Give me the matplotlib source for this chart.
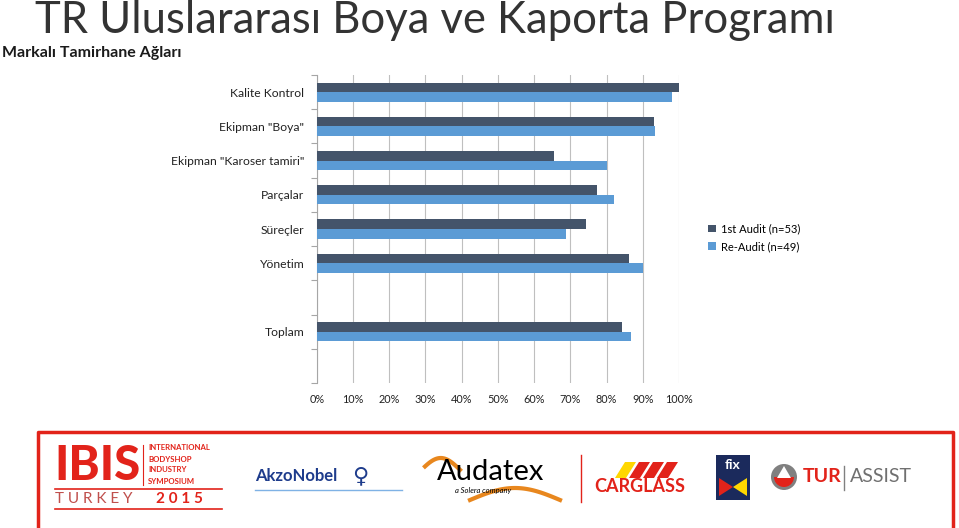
import matplotlib.pyplot as plt
import matplotlib.patches as mpatches
import numpy as np

plt.rcParams['font.family'] = ['Lato', 'DejaVu Sans']

categories = ['Kalite Kontrol', 'Ekipman "Boya"', 'Ekipman "Karoser tamiri"',
              'Parçalar', 'Süreçler', 'Yönetim', '', 'Toplam', '']
first_audit = [100, 93.1, 65.5, 77.3, 74.3, 86.3, np.nan, 84.4, np.nan]
re_audit = [98, 93.5, 80, 82, 68.7, 90, np.nan, 86.8, np.nan]
series_names = ['1st Audit (n=53)', 'Re-Audit (n=49)']
x_ticks = list(range(0, 101, 10))

dark = '#44546A'
light = '#5B9BD5'

fig = plt.figure(figsize=(9.59, 5.28), dpi=100)

fig.text(35 / 959, 1 - 33 / 528, 'TR Uluslararası Boya ve Kaporta Programı',
         fontsize=31.4, fontweight='normal', va='baseline', ha='left', color='#333333')
fig.text(2 / 959, 1 - 53 / 528, 'Markalı Tamirhane Ağları',
         fontsize=11.5, fontweight='bold', va='center', ha='left', color='#1a1a1a')

ax = fig.add_axes([316.7 / 959, 1 - 383 / 528, 362.3 / 959, 308 / 528])
y = np.arange(len(categories))
h = 0.278
ax.barh(y - h / 2, first_audit, height=h, color=dark, label=series_names[0], zorder=3)
ax.barh(y + h / 2, re_audit, height=h, color=light, label=series_names[1], zorder=3)

ax.set_xlim(0, 100)
ax.set_ylim(len(categories) - 0.5, -0.5)
ax.set_xticks(x_ticks)
ax.set_xticklabels([f'{t}%' for t in x_ticks], fontsize=7.8, color='#222222')
ax.tick_params(axis='x', length=0, pad=8)
ax.grid(axis='x', color='#BFBFBF', lw=0.8, zorder=0)

ax.set_yticks(np.arange(-0.5, len(categories), 1.0))
ax.set_yticklabels([])
ax.tick_params(axis='y', which='major', length=4, color='#A6A6A6', width=0.8)
ax.set_yticks(y, minor=True)
ax.set_yticklabels(categories, minor=True, fontsize=8.7, color='#222222')
ax.tick_params(axis='y', which='minor', length=0, pad=9)

for s in ['top', 'right', 'bottom']:
    ax.spines[s].set_visible(False)
ax.spines['left'].set_color('#A6A6A6')
ax.spines['left'].set_linewidth(0.8)

leg = fig.legend(loc='upper left', bbox_to_anchor=(704 / 959, 1 - 219 / 528),
                 frameon=False, fontsize=8, handlelength=0.7, handleheight=0.7,
                 handletextpad=0.45, labelspacing=0.6, borderaxespad=0)

# sponsor banner at the bottom
bx = fig.add_axes([0, 0, 1, 108 / 528])
bx.set_xlim(0, 959)
bx.set_ylim(528, 420)
bx.axis('off')
red = '#E2231A'
bx.plot([38, 38, 953, 953], [540, 432, 432, 540], color=red, lw=2.5, clip_on=False)

# IBIS
bx.text(54, 466, 'IBIS', color=red, fontsize=34, fontweight='black', va='center', ha='left')
bx.plot([143, 143], [445, 485], color=red, lw=0.8)
for i, w in enumerate(['INTERNATIONAL', 'BODYSHOP', 'INDUSTRY', 'SYMPOSIUM']):
    bx.text(148, 448 + i * 11, w, color=red, fontsize=5.6, fontweight='bold', va='center')
bx.plot([55, 222], [489, 489], color=red, lw=1.2)
bx.text(55, 499, 'T U R K E Y', color='#C0504D', fontsize=11, va='center')
bx.text(156, 499, '2 0 1 5', color=red, fontsize=11, fontweight='bold', va='center')
bx.plot([55, 222], [509, 509], color=red, lw=1.2)

# AkzoNobel
bx.text(255, 476, 'AkzoNobel', color='#1E3C8C', fontsize=12, fontweight='bold', va='center')
bx.text(352, 476, '\u2640', color='#1E3C8C', fontsize=16, va='center')
bx.plot([255, 402], [490, 490], color='#7FB2E5', lw=1)

# Audatex
t = np.linspace(0, 1, 50)
bx.plot(425 + 35 * t, 470 - 12 * np.sin(t * np.pi * 0.9 + 0.3), color='#E8871E', lw=3)
bx.plot(470 + 90 * t, 500 - 12 * np.sin(t * np.pi), color='#E8871E', lw=3)
bx.text(437, 472, 'Audatex', color='black', fontsize=21, va='center')
bx.text(455, 490, 'a Solera company', color='black', fontsize=5.5, style='italic', va='center')
bx.plot([581, 581], [455, 502], color=red, lw=1)

# Carglass
for i, c in enumerate(['#FFD700', red, red, red]):
    bx.add_patch(mpatches.Polygon([[615 + i * 14, 478], [625 + i * 14, 462],
                                   [636 + i * 14, 462], [626 + i * 14, 478]],
                                  closed=True, color=c, lw=0))
bx.text(594, 487, 'CARGLASS', color=red, fontsize=13, fontweight='bold', va='center')

# fix auto
bx.add_patch(mpatches.Rectangle((716, 455), 34, 45, color='#1B2A5C', lw=0))
bx.text(733, 465, 'fix', color='white', fontsize=10, fontweight='bold', ha='center', va='center')
bx.add_patch(mpatches.Polygon([[719, 478], [733, 487], [719, 496]], closed=True, color=red, lw=0))
bx.add_patch(mpatches.Polygon([[747, 478], [733, 487], [747, 496]], closed=True, color='#FFD700', lw=0))

# TUR | ASSIST
bx.add_patch(mpatches.Circle((784, 477), 13, color='#808080', lw=0))
bx.add_patch(mpatches.Wedge((784, 477), 10, 0, 180, color=red, lw=0))
bx.add_patch(mpatches.Polygon([[784, 466], [777, 478], [791, 478]], closed=True, color='white', lw=0))
bx.text(803, 477, 'TUR', color=red, fontsize=14, fontweight='bold', va='center')
bx.plot([844, 844], [466, 490], color='#808080', lw=1)
bx.text(850, 477, 'ASSIST', color='#707070', fontsize=14, va='center')

fig.savefig('out.png', dpi=100)
